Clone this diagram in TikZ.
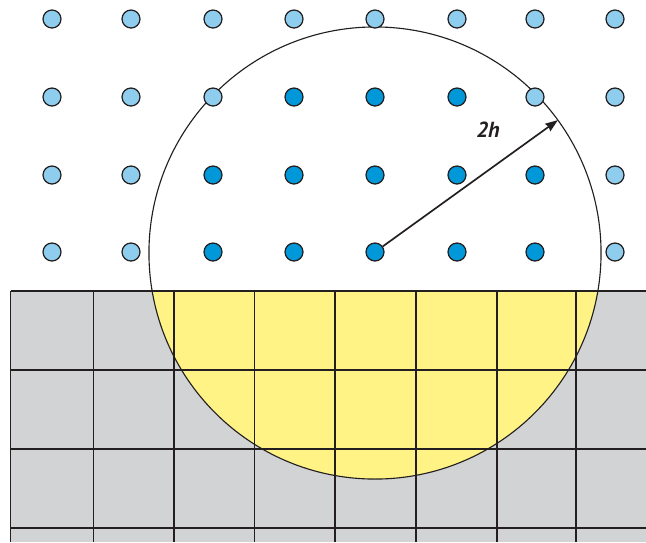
\documentclass[tikz,border=0pt]{standalone}
\usepackage{fontspec}
\newfontfamily\labelfont{PT Sans}
\usetikzlibrary{positioning, arrows.meta, calc}

\definecolor{dotlight}{HTML}{8ECDEE}
\definecolor{dotdark}{HTML}{0098D8}
\definecolor{dotline}{HTML}{231F20}
\definecolor{solidgray}{HTML}{D1D3D4}
\definecolor{kernelyellow}{HTML}{FFF385}

\begin{document}
\begin{tikzpicture}[
    x=0.025cm, y=-0.025cm,
    % Estilos
    site/.style={
        circle, draw=dotline, fill=#1, line width=0.9pt,
        minimum size=0.45cm, inner sep=0pt
    },
    grid line/.style={draw=dotline, line width=1.1pt},
    rim line/.style={draw=dotline, line width=0.8pt},
    arrow/.style={
        -{Stealth[length=9pt, width=6.5pt, inset=1pt]}, line width=1.2pt, color=dotline
    },
    radius label/.style={
        font=\labelfont\fontsize{15.5}{17}\selectfont\bfseries\itshape, text=dotline
    }
]
\useasboundingbox (0,0) rectangle (646,542);

% ── centro del kernel ──
\coordinate (ctr) at (375,253);
\coordinate (rim) at ($(ctr)+(36:5.65cm)$);

% ════════════════════════════════════════
% SÓLIDO (fondo gris + parte dentro del kernel)
% ════════════════════════════════════════
\fill[solidgray] (10.7,291) rectangle (646,542);
\begin{scope}
    \clip (ctr) circle[radius=5.65cm];
    \fill[kernelyellow] (10.7,291) rectangle (646,542);
\end{scope}

% rejilla de celdas
\draw[grid line] (10.7,291) -- (646,291);
\draw[grid line] (10.7,370) -- (646,370);
\draw[grid line] (10.7,449) -- (646,449);
\draw[grid line] (10.7,528) -- (646,528);
\draw[grid line] (10.7,291) -- (10.7,542);
\draw[grid line] (93.5,291) -- (93.5,542);
\draw[grid line] (174,291)  -- (174,542);
\draw[grid line] (254.7,291) -- (254.7,542);
\draw[grid line] (335,291)  -- (335,542);
\draw[grid line] (416,291)  -- (416,542);
\draw[grid line] (497,291)  -- (497,542);
\draw[grid line] (576,291)  -- (576,542);

% ── círculo de soporte ──
\draw[rim line] (ctr) circle[radius=5.65cm];

% ════════════════════════════════════════
% PARTÍCULAS (fila 1, arriba)
% ════════════════════════════════════════
\node[site=dotlight] (r1c1) at (52,19)  {};
\node[site=dotlight] (r1c2) at (131,19) {};
\node[site=dotlight] (r1c3) at (213,19) {};
\node[site=dotlight] (r1c4) at (294,19) {};
\node[site=dotlight] (r1c5) at (375,19) {};
\node[site=dotlight] (r1c6) at (457,19) {};
\node[site=dotlight] (r1c7) at (535,19) {};
\node[site=dotlight] (r1c8) at (615,19) {};

% fila 2
\node[site=dotlight] (r2c1) at (52,97)  {};
\node[site=dotlight] (r2c2) at (131,97) {};
\node[site=dotlight] (r2c3) at (213,97) {};
\node[site=dotdark]  (r2c4) at (294,97) {};
\node[site=dotdark]  (r2c5) at (375,97) {};
\node[site=dotdark]  (r2c6) at (457,97) {};
\node[site=dotlight] (r2c7) at (535,97) {};
\node[site=dotlight] (r2c8) at (615,97) {};

% fila 3
\node[site=dotlight] (r3c1) at (52,175)  {};
\node[site=dotlight] (r3c2) at (131,175) {};
\node[site=dotdark]  (r3c3) at (213,175) {};
\node[site=dotdark]  (r3c4) at (294,175) {};
\node[site=dotdark]  (r3c5) at (375,175) {};
\node[site=dotdark]  (r3c6) at (457,175) {};
\node[site=dotdark]  (r3c7) at (535,175) {};
\node[site=dotlight] (r3c8) at (615,175) {};

% fila 4
\node[site=dotlight] (r4c1) at (52,252)  {};
\node[site=dotlight] (r4c2) at (131,252) {};
\node[site=dotdark]  (r4c3) at (213,252) {};
\node[site=dotdark]  (r4c4) at (294,252) {};
\node[site=dotdark]  (r4c5) at (375,252) {};
\node[site=dotdark]  (r4c6) at (457,252) {};
\node[site=dotdark]  (r4c7) at (535,252) {};
\node[site=dotlight] (r4c8) at (615,252) {};

% ════════════════════════════════════════
% RADIO 2h
% ════════════════════════════════════════
\draw[arrow] (r4c5) -- (rim);
\node[radius label] (rlab) at (488,130) {2h};

\end{tikzpicture}
\end{document}
